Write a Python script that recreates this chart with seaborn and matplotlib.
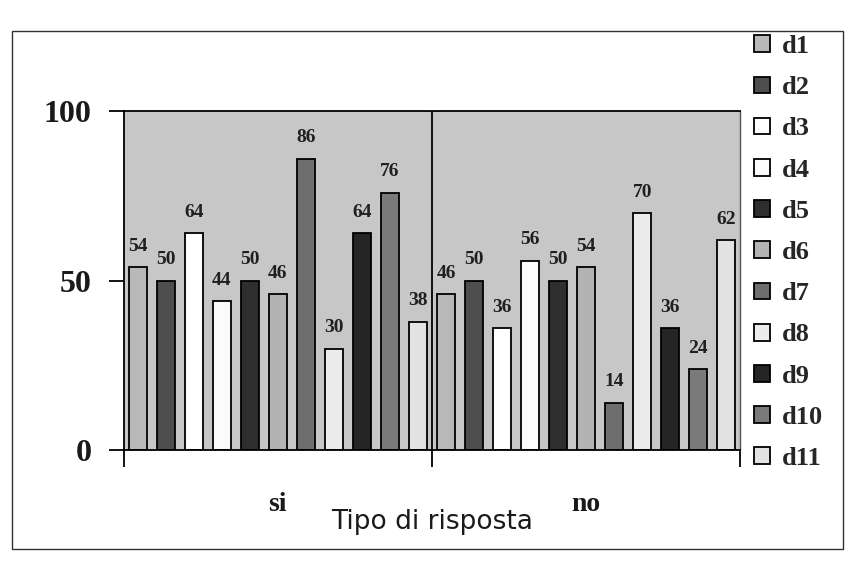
import matplotlib
matplotlib.use("Agg")
import matplotlib.pyplot as plt
from matplotlib.patches import Rectangle
import seaborn as sns
import pandas as pd

# Response categories and series
categories = ["si", "no"]
series = ["d1", "d2", "d3", "d4", "d5", "d6", "d7", "d8", "d9", "d10", "d11"]
values_si = [54, 50, 64, 44, 50, 46, 86, 30, 64, 76, 38]
values_no = [46, 50, 36, 56, 50, 54, 14, 70, 36, 24, 62]
y_ticks = [0, 50, 100]
x_title = "Tipo di risposta"

colors = ["#b9b9b9", "#4e4e4e", "#ffffff", "#fbfbfb", "#2e2e2e", "#b3b3b3",
          "#6e6e6e", "#ececec", "#252525", "#7a7a7a", "#e2e2e2"]

rows = []
for cat, vals in zip(categories, [values_si, values_no]):
    for s, v in zip(series, vals):
        rows.append({"risposta": cat, "serie": s, "valore": v})
df = pd.DataFrame(rows)

sns.set_theme(style="white")
serif = "Liberation Serif"
plt.rcParams["font.family"] = "serif"
plt.rcParams["font.serif"] = ["Liberation Serif", "DejaVu Serif"]

fig = plt.figure(figsize=(8.53, 5.68), dpi=100)
ax = fig.add_axes([0.145, 0.207, 0.723, 0.597])
ax.set_facecolor("#c7c7c7")

sns.barplot(data=df, x="risposta", y="valore", hue="serie", order=categories,
            hue_order=series, palette=colors, width=1.0, gap=0.36,
            edgecolor="black", linewidth=1.3, saturation=1, ax=ax)

for cont in ax.containers:
    ax.bar_label(cont, fmt="%d", padding=9, fontsize=14, fontweight="bold",
                 family=serif, color="#202020")

ax.set_xlim(-0.5, 1.5)
ax.set_ylim(0, 100)
ax.set_yticks(y_ticks)
ax.set_yticklabels([str(t) for t in y_ticks], fontsize=23, fontweight="bold",
                   family=serif, color="#1a1a1a")
ax.tick_params(axis="y", direction="out", length=11, width=1.3, color="black",
               pad=12, left=True)

# category labels without ticks, boundary ticks as minor ticks
ax.set_xticks([0, 1])
ax.set_xticklabels(categories, fontsize=20, fontweight="bold", family=serif,
                   color="#1a1a1a")
ax.tick_params(axis="x", which="major", length=0, pad=30)
ax.set_xticks([-0.5, 0.5, 1.5], minor=True)
ax.tick_params(axis="x", which="minor", direction="out", length=12, width=1.3,
               color="black", bottom=True)

ax.axvline(0.5, color="black", linewidth=1.3)
for side in ["left", "bottom", "top", "right"]:
    ax.spines[side].set_visible(True)
    ax.spines[side].set_color("black")
    ax.spines[side].set_linewidth(1.3)
ax.spines["right"].set_color("#555555")
ax.spines["right"].set_linewidth(1.0)

ax.set_xlabel(x_title, fontsize=19, family="DejaVu Sans", color="#1a1a1a",
              labelpad=-6)
ax.set_ylabel("")

handles, labels = ax.get_legend_handles_labels()
if ax.get_legend() is not None:
    ax.get_legend().remove()
fig.legend(handles, labels, loc="upper left", bbox_to_anchor=(0.872, 0.957),
           frameon=False, prop={"weight": "bold", "size": 19, "family": serif},
           handlelength=0.6, handleheight=0.6, handletextpad=0.45,
           labelspacing=0.69, borderaxespad=0)

# outer chart frame
fig.patches.append(Rectangle((12 / 853, 1 - 549 / 568), (843 - 12) / 853,
                             (549 - 31) / 568, transform=fig.transFigure,
                             fill=False, edgecolor="#333333", linewidth=1.0))

fig.savefig("out.png", dpi=100)
